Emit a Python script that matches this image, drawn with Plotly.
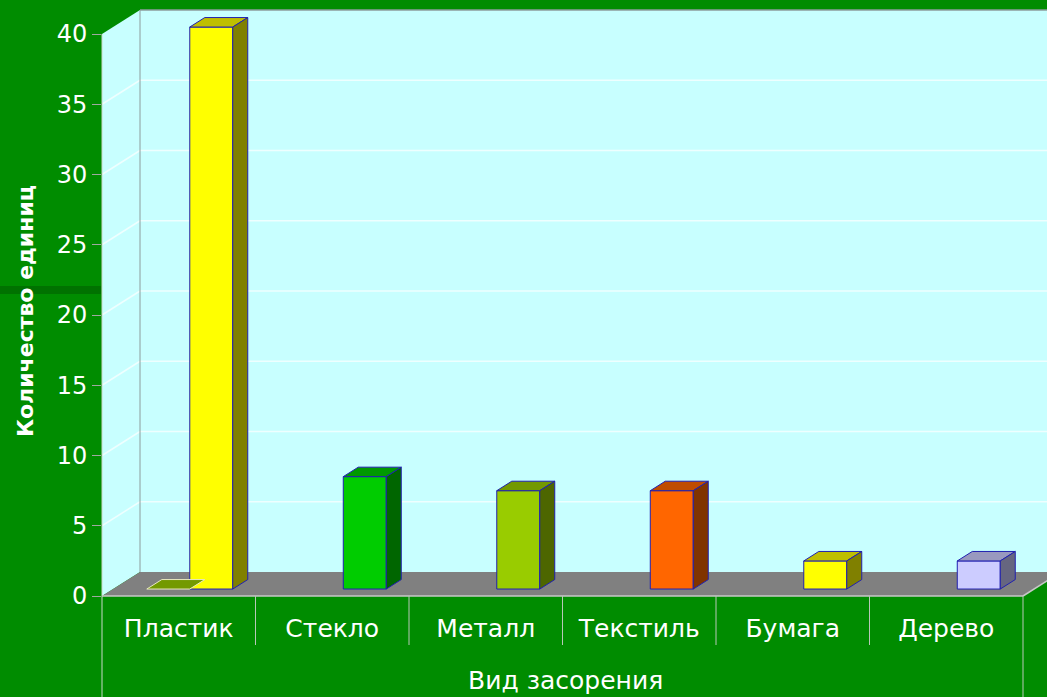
import plotly.graph_objects as go

# ---- data ----
categories = ["Пластик", "Стекло", "Металл", "Текстиль", "Бумага", "Дерево"]
values = [40, 8, 7, 7, 2, 2]
extra_series = [0, None, None, None, None, None]   # zero-height first series (only Пластик)
front_colors = ["#FFFF00", "#00CC00", "#99CC00", "#FF6600", "#FFFF00", "#CCCCFF"]
side_colors = ["#808000", "#006600", "#4D6600", "#803300", "#808000", "#666680"]
top_colors = ["#BFBF00", "#009900", "#739900", "#BF4C00", "#BFBF00", "#9999BF"]
extra_top_color = "#739900"
y_ticks = [0, 5, 10, 15, 20, 25, 30, 35, 40]
x_title = "Вид засорения"
y_title = "Количество единиц"

# ---- geometry (style) ----
GREEN = "#008C00"
WALL = "#C8FFFF"
FLOOR = "#808080"
EDGE = "#2020B0"
PX_X = 153.5      # px per category
PX_Y = 14.05      # px per unit
DX = 38 / PX_X    # depth offset in x units
DY = 24 / PX_Y    # depth offset in y units
FD, BD = 0.29, 0.685  # bar front / back depth fractions
XMAX = 945 / PX_X
YTOP = (596 - 9) / PX_Y
YBOT = -(697 - 596) / PX_Y
YMAXV = max(y_ticks)

fig = go.Figure()
shapes = []

def poly(pts):
    return "M " + " L ".join(f"{x},{y}" for x, y in pts) + " Z"

# back wall
shapes.append(dict(type="path", xref="x", yref="y", layer="below",
                   path=poly([(DX, DY), (XMAX + 1, DY), (XMAX + 1, YMAXV + DY), (DX, YMAXV + DY)]),
                   fillcolor=WALL, line=dict(width=0)))
# left side wall
shapes.append(dict(type="path", xref="x", yref="y", layer="below",
                   path=poly([(0, 0), (DX, DY), (DX, YMAXV + DY), (0, YMAXV)]),
                   fillcolor=WALL, line=dict(width=0)))
# gridlines
for v in y_ticks[1:-1]:
    shapes.append(dict(type="line", xref="x", yref="y", layer="below",
                       x0=DX, x1=XMAX + 1, y0=v + DY, y1=v + DY,
                       line=dict(color="#EEFFFF", width=1.5)))
    shapes.append(dict(type="line", xref="x", yref="y", layer="below",
                       x0=0, x1=DX, y0=v, y1=v + DY,
                       line=dict(color="#EEFFFF", width=1.5)))
# back wall edges
shapes.append(dict(type="line", xref="x", yref="y", layer="below",
                   x0=DX, x1=DX, y0=DY, y1=YMAXV + DY, line=dict(color="#8C9C9C", width=1)))
shapes.append(dict(type="line", xref="x", yref="y", layer="below",
                   x0=DX, x1=XMAX + 1, y0=YMAXV + DY, y1=YMAXV + DY, line=dict(color="#8C9C9C", width=1.5)))
# floor
n = len(categories)
shapes.append(dict(type="path", xref="x", yref="y", layer="below",
                   path=poly([(0, 0), (n, 0), (n + DX, DY), (DX, DY)]),
                   fillcolor=FLOOR, line=dict(width=0)))
shapes.append(dict(type="line", xref="x", yref="y", layer="below",
                   x0=0, x1=n, y0=0, y1=0, line=dict(color="#C8C8C8", width=1.5)))
shapes.append(dict(type="line", xref="x", yref="y", layer="below",
                   x0=n, x1=n + DX, y0=0, y1=DY, line=dict(color="#C8C8C8", width=1.5)))
# category separators and frame below floor
for i in range(1, n):
    shapes.append(dict(type="line", xref="x", yref="y", layer="below",
                       x0=i, x1=i, y0=0, y1=-49 / PX_Y, line=dict(color="#B8C8B8", width=1)))
shapes.append(dict(type="line", xref="x", yref="y", layer="below",
                   x0=n, x1=n, y0=0, y1=YBOT, line=dict(color="#B8C8B8", width=1)))
shapes.append(dict(type="line", xref="paper", yref="y", layer="above",
                   x0=0, x1=0, y0=YBOT, y1=YMAXV, line=dict(color="#C8D8C8", width=1)))
# dark band at the left edge
shapes.append(dict(type="rect", xref="paper", yref="y", layer="below",
                   x0=-102 / 945, x1=-1 / 945, y0=(596 - 294) / PX_Y, y1=(596 - 286) / PX_Y,
                   fillcolor="#007200", line=dict(width=0)))

# ---- bars ----
def add_box(x0, x1, v, front, side, top, edge):
    fx0, fx1 = x0 + FD * DX, x1 + FD * DX
    bx0, bx1 = x0 + BD * DX, x1 + BD * DX
    fy, by = FD * DY, BD * DY
    # top
    fig.add_trace(go.Scatter(x=[fx0, fx1, bx1, bx0, fx0], y=[v + fy, v + fy, v + by, v + by, v + fy],
                             mode="lines", fill="toself", fillcolor=top,
                             line=dict(color=edge, width=1), hoverinfo="skip", showlegend=False))
    if v > 0:
        fig.add_trace(go.Scatter(x=[fx1, bx1, bx1, fx1, fx1], y=[fy, by, v + by, v + fy, fy],
                                 mode="lines", fill="toself", fillcolor=side,
                                 line=dict(color=edge, width=1), hoverinfo="skip", showlegend=False))

# front faces via bar trace
bx = [i + 0.64 + FD * DX for i in range(n)]
fig.add_trace(go.Bar(x=bx, y=values, base=FD * DY, width=0.28,
                     marker=dict(color=front_colors, line=dict(color=EDGE, width=1)),
                     showlegend=False, hoverinfo="skip"))

for i, v in enumerate(extra_series):
    if v is not None:
        add_box(i + 0.22, i + 0.50, v, extra_top_color, extra_top_color, extra_top_color, "#E8E8C0")
for i, v in enumerate(values):
    add_box(i + 0.50, i + 0.78, v, front_colors[i], side_colors[i], top_colors[i], EDGE)

# category labels
fig.add_trace(go.Scatter(x=[i + 0.5 for i in range(n)], y=[-35 / PX_Y] * n, text=categories,
                         mode="text", textfont=dict(family="DejaVu Sans", size=25, color="white"),
                         hoverinfo="skip", showlegend=False))

fig.update_layout(
    width=1047, height=697,
    margin=dict(l=102, r=0, t=9, b=0),
    paper_bgcolor=GREEN, plot_bgcolor=GREEN,
    shapes=shapes,
    xaxis=dict(range=[0, XMAX], visible=False, fixedrange=True),
    yaxis=dict(range=[YBOT, YTOP], tickvals=y_ticks, ticks="outside", ticklen=9,
               tickcolor="#A0A8A0", tickwidth=1, showgrid=False, zeroline=False, showline=False,
               tickfont=dict(family="DejaVu Sans", size=24, color="white")),
    annotations=[
        dict(text=x_title, xref="x", yref="y", x=n / 2 + 0.02, y=-84 / PX_Y, showarrow=False,
             font=dict(family="DejaVu Sans", size=25, color="white")),
        dict(text=f"<b>{y_title}</b>", xref="paper", yref="y", x=-77 / 945, y=(596 - 311) / PX_Y,
             xanchor="center", yanchor="middle",
             textangle=-90, showarrow=False, font=dict(family="DejaVu Sans", size=22, color="white")),
    ],
)

fig.write_html("out.html")
